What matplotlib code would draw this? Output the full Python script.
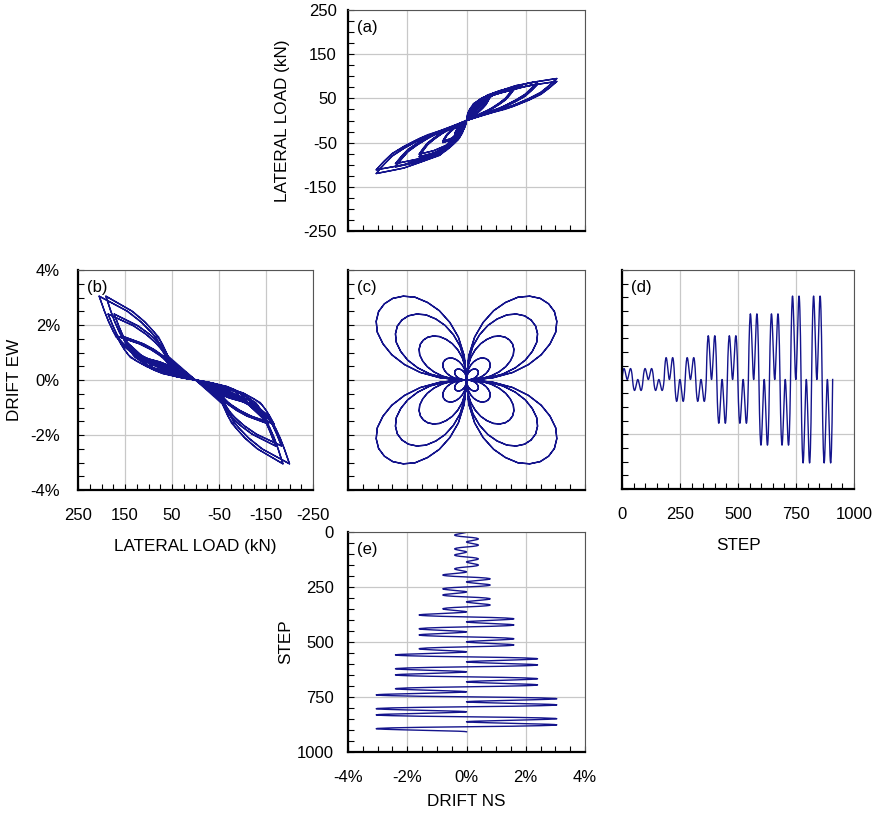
import numpy as np
import matplotlib.pyplot as plt

plt.rcParams['font.family'] = ['Liberation Sans', 'DejaVu Sans']
plt.rcParams['axes.unicode_minus'] = False

# cloverleaf test: max drift of each group of leaves (%), read from (c) and (e)
level_drift = [0.4, 0.8, 1.6, 2.4, 3.05]
petals_per_level = 8
steps_per_petal = 22.7
# start angle (deg) of the leaf quadrants, visited in order II, I, IV, III
petal_start = [90, 0, 270, 180]

leaf_psi = [0, 5, 10, 15, 20, 25, 30, 35, 40, 45, 50, 55, 60, 65, 70, 75, 80, 85, 90]
leaf_r = [0, 0.29, 0.52, 0.71, 0.88, 1.02, 1.14, 1.22, 1.27, 1.285,
          1.27, 1.22, 1.14, 1.02, 0.88, 0.71, 0.52, 0.29, 0]

# peak lateral loads (kN) of each group, read from (a) and (b)
ns_peak_pos = [40, 58, 75, 88, 95]
ns_peak_neg = [-32, -50, -82, -105, -120]
ew_peak_pos = [65, 115, 168, 186, 205]
ew_peak_neg = [-62, -110, -167, -183, -200]
# load drop of the second cycle at the same drift
cycle_factor = [1.0, 0.93]

# loop shape: drift / peak drift -> load / peak load (loading and unloading)
ns_load_u = [0, 0.1, 0.3, 0.7, 1]
ns_load_f = [0, 0.4, 0.66, 0.9, 1]
ns_unl_u = [0, 0.1, 0.28, 0.45, 0.67, 0.85, 1]
ns_unl_f = [0, 0.08, 0.2, 0.3, 0.5, 0.7, 1]
ew_load_u = [0, 0.12, 0.27, 0.5, 0.74, 1]
ew_load_f = [0, 0.30, 0.58, 0.82, 0.92, 1]
ew_unl_u = [0, 0.15, 0.5, 0.78, 1]
ew_unl_f = [0, 0.25, 0.40, 0.64, 1]


def loop_load(d, ppos, pneg, lu, lf, uu, uf):
    k = np.argmax(np.abs(d))
    P = ppos if d[k] > 0 else pneg
    u = np.abs(d) / abs(d[k])
    out = np.empty_like(d)
    out[:k + 1] = P * np.interp(u[:k + 1], lu, lf)
    out[k:] = P * np.interp(u[k:], uu, uf)
    return out


psi = np.array(leaf_psi, float)
rr = np.array(leaf_r)
ns, ew, step, load_ns, load_ew = [], [], [], [], []
for p in range(len(level_drift) * petals_per_level):
    lev = p // petals_per_level
    cf = cycle_factor[(p % petals_per_level) // 4]
    A = level_drift[lev]
    ang = np.radians(petal_start[p % 4] + psi)
    x = A * rr * np.cos(ang)
    y = A * rr * np.sin(ang)
    s = (p + psi / 90.0) * steps_per_petal
    fx = cf * loop_load(x, ns_peak_pos[lev], ns_peak_neg[lev], ns_load_u, ns_load_f, ns_unl_u, ns_unl_f)
    fy = cf * loop_load(y, ew_peak_pos[lev], ew_peak_neg[lev], ew_load_u, ew_load_f, ew_unl_u, ew_unl_f)
    i0 = 0 if p == 0 else 1
    ns.append(x[i0:]); ew.append(y[i0:]); step.append(s[i0:])
    load_ns.append(fx[i0:]); load_ew.append(fy[i0:])
ns = np.concatenate(ns); ew = np.concatenate(ew); step = np.concatenate(step)
load_ns = np.concatenate(load_ns); load_ew = np.concatenate(load_ew)

W, H = 873, 818
fig = plt.figure(figsize=(W / 100, H / 100), dpi=100)


def box(l, r, t, b):
    return [l / W, 1 - b / H, (r - l) / W, (b - t) / H]


col = '#14148c'
pct = [f'{v}%' for v in (-4, -2, 0, 2, 4)]


def style(ax, tag):
    ax.set_axisbelow(True)
    ax.grid(True, which='major', color='#c8c8c8', lw=0.9)
    for s in ('left', 'bottom'):
        ax.spines[s].set_linewidth(1.6)
        ax.spines[s].set_color('black')
    for s in ('top', 'right'):
        ax.spines[s].set_linewidth(0.8)
        ax.spines[s].set_color('#555555')
    ax.tick_params(which='both', direction='in', length=4, width=0.8, labelsize=12,
                   top=False, right=False)
    ax.text(0.04, 0.955, tag, transform=ax.transAxes, ha='left', va='top', fontsize=12)


# (a)
ax = fig.add_axes(box(348, 585, 10, 231))
ax.plot(ns, load_ns, color=col, lw=1.0)
ax.set_xlim(-4, 4); ax.set_ylim(-250, 250)
ax.set_xticks(np.arange(-4, 4.1, 2)); ax.set_xticks(np.arange(-4, 4.1, 0.5), minor=True)
ax.set_yticks(np.arange(-250, 251, 100)); ax.set_yticks(np.arange(-250, 251, 25), minor=True)
style(ax, '(a)')
ax.tick_params(axis='x', labelbottom=False)
ax.tick_params(axis='y', pad=8)
ax.set_ylabel('LATERAL LOAD (kN)', fontsize=12.3)
ax.yaxis.set_label_coords(-0.245, 0.5)

# (b)
ax = fig.add_axes(box(78, 313, 270, 490))
ax.plot(load_ew, ew, color=col, lw=1.0)
ax.set_xlim(250, -250); ax.set_ylim(-4, 4)
ax.set_xticks(np.arange(-250, 251, 100)); ax.set_xticks(np.arange(-250, 251, 25), minor=True)
ax.set_yticks(np.arange(-4, 4.1, 2)); ax.set_yticks(np.arange(-4, 4.1, 0.5), minor=True)
ax.set_yticklabels(pct)
style(ax, '(b)')
ax.tick_params(axis='x', pad=13)
ax.tick_params(axis='y', pad=13)
ax.set_xlabel('LATERAL LOAD (kN)', fontsize=12.3)
ax.xaxis.set_label_coords(0.5, -0.225)
ax.set_ylabel('DRIFT EW', fontsize=12.3)
ax.yaxis.set_label_coords(-0.238, 0.5)

# (c)
ax = fig.add_axes(box(348, 585, 270, 490))
ax.plot(ns, ew, color=col, lw=1.0)
ax.set_xlim(-4, 4); ax.set_ylim(-4, 4)
ax.set_xticks(np.arange(-4, 4.1, 2)); ax.set_xticks(np.arange(-4, 4.1, 0.5), minor=True)
ax.set_yticks(np.arange(-4, 4.1, 2)); ax.set_yticks(np.arange(-4, 4.1, 0.5), minor=True)
style(ax, '(c)')
ax.tick_params(labelleft=False, labelbottom=False)

# (d)
ax = fig.add_axes(box(622, 854, 270, 489))
ax.plot(step, ew, color=col, lw=1.0)
ax.set_xlim(0, 1000); ax.set_ylim(-4, 4)
ax.set_xticks(np.arange(0, 1001, 250)); ax.set_xticks(np.arange(0, 1001, 50), minor=True)
ax.set_yticks(np.arange(-4, 4.1, 2)); ax.set_yticks(np.arange(-4, 4.1, 0.5), minor=True)
style(ax, '(d)')
ax.tick_params(labelleft=False)
ax.tick_params(axis='x', pad=13)
ax.set_xlabel('STEP', fontsize=12.3)
ax.xaxis.set_label_coords(0.5, -0.225)

# (e)
ax = fig.add_axes(box(348, 585, 532, 752))
ax.plot(ns, step, color=col, lw=1.0)
ax.set_xlim(-4, 4); ax.set_ylim(1000, 0)
ax.set_xticks(np.arange(-4, 4.1, 2)); ax.set_xticks(np.arange(-4, 4.1, 0.5), minor=True)
ax.set_xticklabels(pct)
ax.set_yticks(np.arange(0, 1001, 250)); ax.set_yticks(np.arange(0, 1001, 50), minor=True)
style(ax, '(e)')
ax.tick_params(axis='x', pad=13)
ax.tick_params(axis='y', pad=10)
ax.set_xlabel('DRIFT NS', fontsize=12.3)
ax.xaxis.set_label_coords(0.5, -0.19)
ax.set_ylabel('STEP', fontsize=12.3)
ax.yaxis.set_label_coords(-0.232, 0.5)

fig.savefig('out.png', dpi=100)
